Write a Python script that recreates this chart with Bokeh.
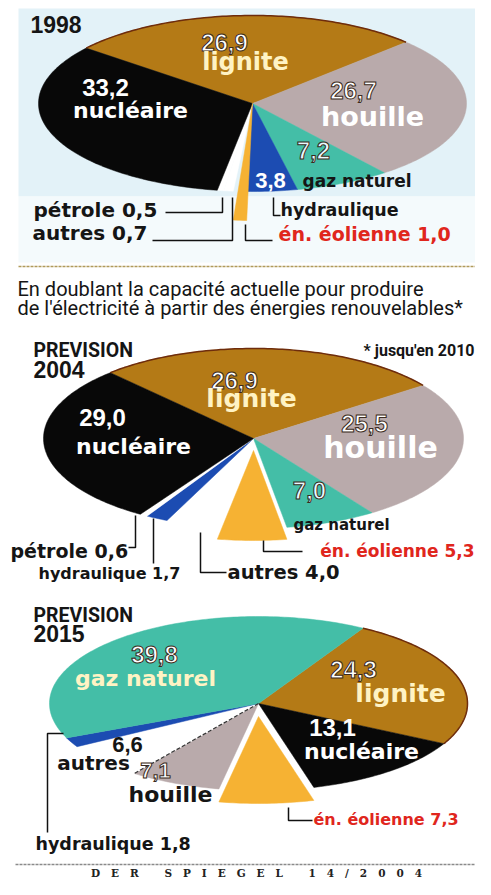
import numpy as np
from bokeh.plotting import figure
from bokeh.models import ColumnDataSource, Range1d
from bokeh.embed import file_html
from bokeh.resources import INLINE

# ---------------- data ----------------
years = ["1998", "2004", "2015"]
prevision_label = "PREVISION"

categories_1998 = ["lignite", "houille", "gaz naturel", "hydraulique", "én. éolienne", "autres", "pétrole", "nucléaire"]
values_1998 = [26.9, 26.7, 7.2, 3.8, 1.0, 0.7, 0.5, 33.2]

categories_2004 = ["lignite", "houille", "gaz naturel", "én. éolienne", "autres", "hydraulique", "pétrole", "nucléaire"]
values_2004 = [26.9, 25.5, 7.0, 5.3, 4.0, 1.7, 0.6, 29.0]

categories_2015 = ["lignite", "nucléaire", "én. éolienne", "houille", "autres", "hydraulique", "gaz naturel"]
values_2015 = [24.3, 13.1, 7.3, 7.1, 6.6, 1.8, 39.8]

headline = ["En doublant la capacité actuelle pour produire",
            "de l'électricité à partir des énergies renouvelables*"]
footnote = "* jusqu'en 2010"
source = "DER SPIEGEL 14/2004"

# ---------------- styles ----------------
COLORS = {
    "lignite": "#b47a16", "houille": "#b9aaab", "gaz naturel": "#44bea7",
    "nucléaire": "#080808", "hydraulique": "#1c4cb2", "én. éolienne": "#f6b233",
    "autres": "#ffffff", "pétrole": "#ffffff",
}
WHITE, PALE, BLACK, RED, ICE = "#ffffff", "#fff3c4", "#151515", "#e0261d", "#eafaff"
F_NUM, F_WORD, F_COND = "Liberation Sans", "DejaVu Sans", "Roboto"
DARK = "#3a2a20"

# pie geometry (reference pixel layout)
PIES = {
    "1998": dict(cats=categories_1998, vals=values_1998, cx=252, cy=103, rx=214, ry=88, start=141,
                 explode={"én. éolienne": (0, 0, 1.33)}),
    "2004": dict(cats=categories_2004, vals=values_2004, cx=253, cy=438, rx=210, ry=90, start=133,
                 explode={"én. éolienne": (0, 12, 1.0)}),
    "2015": dict(cats=categories_2015, vals=values_2015, cx=258, cy=703, rx=209, ry=87, start=60,
                 explode={"én. éolienne": (0, 13, 1.0)}),
}

# label layout: (pie, category, part, x, y, size, font, color, align, outline)
LABELS = [
    ("1998", "lignite", "num", 224, 42, 24, F_NUM, WHITE, "center", DARK),
    ("1998", "lignite", "name", 245, 61, 24, F_WORD, PALE, "center", None),
    ("1998", "nucléaire", "num", 105, 87, 24, F_NUM, WHITE, "center", None),
    ("1998", "nucléaire", "name", 130, 110, 22, F_WORD, WHITE, "center", None),
    ("1998", "houille", "num", 353, 90, 24, F_NUM, WHITE, "center", DARK),
    ("1998", "houille", "name", 372, 116, 27, F_WORD, WHITE, "center", None),
    ("1998", "gaz naturel", "num", 313, 150, 24, F_NUM, ICE, "center", DARK),
    ("1998", "gaz naturel", "name", 302, 180, 17, F_WORD, BLACK, "left", None),
    ("1998", "hydraulique", "num", 270, 180, 22, F_NUM, WHITE, "center", None),
    ("1998", "hydraulique", "name", 280, 209, 17.5, F_WORD, BLACK, "left", None),
    ("1998", "pétrole", "both", 33, 209, 20, F_WORD, BLACK, "left", None),
    ("1998", "autres", "both", 32, 232, 20, F_WORD, BLACK, "left", None),
    ("1998", "én. éolienne", "both", 278, 233, 19, F_WORD, RED, "left", None),

    ("2004", "lignite", "num", 234, 380, 24, F_NUM, WHITE, "center", DARK),
    ("2004", "lignite", "name", 251, 398, 25, F_WORD, PALE, "center", None),
    ("2004", "nucléaire", "num", 102, 417, 24, F_NUM, WHITE, "center", None),
    ("2004", "nucléaire", "name", 133, 446, 22, F_WORD, WHITE, "center", None),
    ("2004", "houille", "num", 364, 423, 24, F_NUM, WHITE, "center", DARK),
    ("2004", "houille", "name", 380, 447, 30, F_WORD, WHITE, "center", None),
    ("2004", "gaz naturel", "num", 309, 490, 24, F_NUM, ICE, "center", DARK),
    ("2004", "gaz naturel", "name", 293, 524, 15, F_WORD, BLACK, "left", None),
    ("2004", "én. éolienne", "both", 474, 550, 17, F_WORD, RED, "right", None),
    ("2004", "pétrole", "both", 10, 550, 19, F_WORD, BLACK, "left", None),
    ("2004", "hydraulique", "both", 38, 573, 16, F_WORD, BLACK, "left", None),
    ("2004", "autres", "both", 227, 572, 19.5, F_WORD, BLACK, "left", None),

    ("2015", "gaz naturel", "num", 154, 654, 24, F_NUM, WHITE, "center", DARK),
    ("2015", "gaz naturel", "name", 145, 678, 22, F_WORD, PALE, "center", None),
    ("2015", "lignite", "num", 353, 669, 24, F_NUM, WHITE, "center", DARK),
    ("2015", "lignite", "name", 400, 693, 25, F_WORD, PALE, "center", None),
    ("2015", "nucléaire", "num", 332, 727, 24, F_NUM, WHITE, "center", None),
    ("2015", "nucléaire", "name", 361, 751, 22, F_WORD, WHITE, "center", None),
    ("2015", "autres", "num", 127, 744, 22, F_NUM, BLACK, "center", None),
    ("2015", "autres", "name", 93, 762, 20, F_WORD, BLACK, "center", None),
    ("2015", "houille", "num", 155, 770, 22, F_NUM, WHITE, "center", DARK),
    ("2015", "houille", "name", 170, 794, 22, F_WORD, BLACK, "center", None),
    ("2015", "én. éolienne", "both", 313, 819, 16, F_WORD, RED, "left", None),
    ("2015", "hydraulique", "both", 35, 843, 17.5, F_WORD, BLACK, "left", None),
]

LEADERS = [
    [(165, 212), (222, 212), (222, 197)], [(152, 240), (232, 240), (232, 197)],
    [(273, 197), (273, 215), (280, 215)], [(245, 224), (245, 240), (272, 240)],
    [(128, 547), (135, 547), (135, 515)], [(153, 518), (153, 563)],
    [(200, 532), (200, 572), (226, 572)], [(263, 540), (263, 551), (302, 551)],
    [(288, 807), (288, 820), (312, 820)], [(63, 733), (47, 733), (47, 832)],
]


def fmt(v):
    return f"{v:.1f}".replace(".", ",")


def arc(cx, cy, rx, ry, a0, a1, n):
    t = np.radians(np.linspace(a0, a1, n))
    return cx + rx * np.cos(t), cy - ry * np.sin(t)


def spaced(s, inner=3, word=7):
    nb = "\u00a0"
    return (nb * word).join((nb * inner).join(list(w)) for w in s.split(" "))


W, H = 475, 879
p = figure(width=W, height=H, output_backend="svg", toolbar_location=None,
           x_range=Range1d(0, W), y_range=Range1d(H, 0),
           x_axis_type=None, y_axis_type=None, min_border=0)
p.grid.visible = False
p.outline_line_color = None
p.background_fill_color = "#ffffff"
p.border_fill_color = "#ffffff"

# panel background for 1998
p.quad(left=[18], right=[W], top=[8], bottom=[196], fill_color="#e3f2f8", line_color=None)
p.quad(left=[18], right=[W], top=[196], bottom=[262], fill_color="#f4fafc", line_color=None)

# separators
p.line([18, W], [266, 266], line_color="#b09a5a", line_width=1.5, line_dash="3 1")
p.line([15, W], [864, 864], line_color="#8a8a8a", line_width=1.5, line_dash="3 1")

# slices
base = dict(xs=[], ys=[], fill=[])
expl = dict(xs=[], ys=[], fill=[])
rim_xs, rim_ys = [], []
edge_xs, edge_ys = [], []
for year in years:
    P = PIES[year]
    total = sum(P["vals"])
    a = P["start"]
    for c, v in zip(P["cats"], P["vals"]):
        span = 360.0 * v / total
        a0, a1 = a, a - span
        cx, cy, rx, ry = P["cx"], P["cy"], P["rx"], P["ry"]
        target = base
        if c in P["explode"]:
            dx, dy, sy = P["explode"][c]
            cx, cy, ry = cx + dx, cy + dy, ry * sy
            target = expl
        ax, ay = arc(cx, cy, rx, ry, a0, a1, max(4, int(span) + 2))
        target["xs"].append([cx] + list(ax))
        target["ys"].append([cy] + list(ay))
        target["fill"].append(COLORS[c])
        if c == "lignite":
            rim_xs.append(list(ax)); rim_ys.append(list(ay))
        if year == "2015" and c == "houille":
            edge_xs.append([cx, ax[-1]]); edge_ys.append([cy, ay[-1]])
        a = a1

p.patches("xs", "ys", fill_color="fill", line_color="fill", line_width=0.5,
          source=ColumnDataSource(base))
p.patches("xs", "ys", fill_color="fill", line_color="fill", line_width=0.5,
          source=ColumnDataSource(expl))
p.multi_line(rim_xs, rim_ys, line_color="#6e2c0c", line_width=1.5)
p.multi_line(edge_xs, edge_ys, line_color="#333333", line_width=1.2, line_dash="4 2")

# leader lines
p.multi_line([[q[0] for q in L] for L in LEADERS], [[q[1] for q in L] for L in LEADERS],
             line_color="#111111", line_width=1.5)

# texts
rows = {}


def add(x, y, text, size, font, color, align, style="bold", outline=None):
    d = rows.setdefault((align, style, outline), dict(x=[], y=[], text=[], size=[], font=[], color=[]))
    d["x"].append(x); d["y"].append(y); d["text"].append(text)
    d["size"].append(f"{size}px"); d["font"].append(font); d["color"].append(color)


for (yr, c, part, x, y, size, font, color, align, outline) in LABELS:
    P = PIES[yr]
    v = P["vals"][P["cats"].index(c)]
    txt = fmt(v) if part == "num" else (c if part == "name" else f"{c} {fmt(v)}")
    add(x, y, txt, size, font, color, align, outline=outline)

add(30, 24, years[0], 23, F_NUM, BLACK, "left")
add(33, 350, prevision_label, 19.5, F_COND, BLACK, "left")
add(33, 369, years[1], 23, F_NUM, BLACK, "left")
add(33, 615, prevision_label, 19.5, F_COND, BLACK, "left")
add(33, 633, years[2], 23, F_NUM, BLACK, "left")
add(474, 350, footnote, 16, F_COND, BLACK, "right")
add(17, 288, headline[0], 20, F_COND, BLACK, "left", "normal")
add(17, 307, headline[1], 20, F_COND, BLACK, "left", "normal")
add(256, 872, spaced(source), 10.5, "DejaVu Serif", "#222222", "center")

for (align, style, outline), d in rows.items():
    kw = {}
    if outline is not None:
        kw["text_outline_color"] = outline
    p.text("x", "y", text="text", text_font_size="size", text_font="font", text_color="color",
           text_align=align, text_baseline="middle", text_font_style=style,
           source=ColumnDataSource(d), **kw)

open("out.html", "w").write(file_html(p, INLINE))
